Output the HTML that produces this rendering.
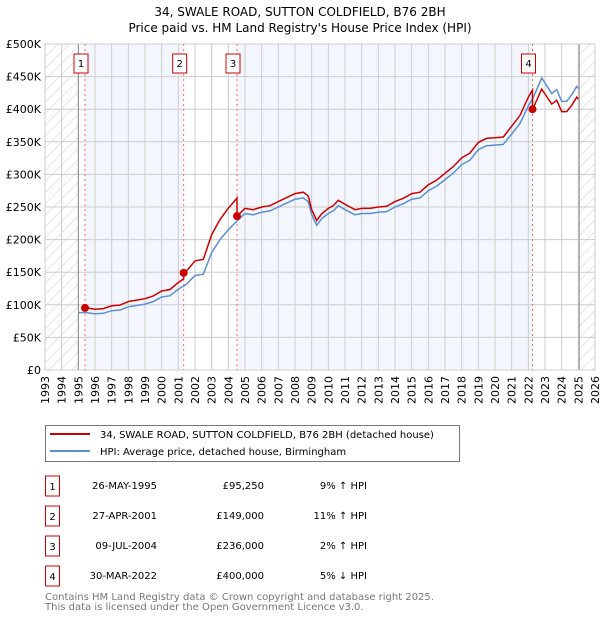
<!DOCTYPE html>
<html><head><meta charset="utf-8">
<style>
body{margin:0;background:#fff;font-family:"DejaVu Sans","Liberation Sans",sans-serif;}
svg text{font-family:"DejaVu Sans","Liberation Sans",sans-serif;}
</style></head>
<body>
<svg id="chart" width="600" height="620" xmlns="http://www.w3.org/2000/svg">
<defs>
<pattern id="hatch" patternUnits="userSpaceOnUse" width="8" height="8" patternTransform="rotate(45)">
<line x1="0" y1="0" x2="0" y2="8" stroke="#ccc" stroke-width="1"/>
</pattern>
</defs>
<text x="300" y="16" text-anchor="middle" font-size="12">34, SWALE ROAD, SUTTON COLDFIELD, B76 2BH</text>
<text x="300" y="32" text-anchor="middle" font-size="12">Price paid vs. HM Land Registry's House Price Index (HPI)</text>
<g id="plot"></g>
<g>
<rect x="45.5" y="425.5" width="414" height="36" fill="#fff" stroke="#777"/>
<line x1="50" y1="434" x2="90" y2="434" stroke="#cc0000" stroke-width="2"/>
<text x="100" y="438" font-size="10">34, SWALE ROAD, SUTTON COLDFIELD, B76 2BH (detached house)</text>
<line x1="50" y1="451" x2="90" y2="451" stroke="#5b8fd4" stroke-width="2"/>
<text x="100" y="455" font-size="10">HPI: Average price, detached house, Birmingham</text>
</g>
<g id="table"></g>
<text x="45" y="600" font-size="10" fill="#777">Contains HM Land Registry data © Crown copyright and database right 2025.</text>
<text x="45" y="610" font-size="10" fill="#777">This data is licensed under the Open Government Licence v3.0.</text>
</svg>
<script>
const hpiYears=[1995.0,1995.5,1996.0,1996.5,1997.0,1997.5,1998.0,1998.5,1999.0,1999.5,2000.0,2000.5,2001.0,2001.5,2002.0,2002.5,2003.0,2003.5,2004.0,2004.5,2005.0,2005.5,2006.0,2006.5,2007.0,2007.5,2008.0,2008.5,2008.8,2009.0,2009.3,2009.6,2010.0,2010.3,2010.6,2011.0,2011.3,2011.6,2012.0,2012.5,2013.0,2013.5,2014.0,2014.5,2015.0,2015.5,2016.0,2016.5,2017.0,2017.5,2018.0,2018.5,2019.0,2019.5,2020.0,2020.5,2021.0,2021.5,2022.0,2022.3,2022.8,2023.1,2023.4,2023.7,2024.0,2024.3,2024.6,2024.9,2025.0];
const hpiValues=[88,88,86,87,91,92,97,99,101,105,112,114,124,132,145,147,180,200,215,228,240,238,242,244,250,256,262,264,258,238,222,232,240,244,252,246,242,238,240,240,242,243,250,255,262,264,275,282,292,302,315,322,338,344,345,346,362,378,405,418,448,436,424,430,412,412,422,435,432];
const saleYears=[1995.40,2001.32,2004.52,2022.25];
const salePrices=[95250,149000,236000,400000];
const saleLabels=["1","2","3","4"];
const saleDates=["26-MAY-1995","27-APR-2001","09-JUL-2004","30-MAR-2022"];
const salePriceText=["£95,250","£149,000","£236,000","£400,000"];
const saleHpiText=["9% ↑ HPI","11% ↑ HPI","2% ↑ HPI","5% ↓ HPI"];
const yTicks=[0,50,100,150,200,250,300,350,400,450,500];
const yTickLabels=["£0","£50K","£100K","£150K","£200K","£250K","£300K","£350K","£400K","£450K","£500K"];
const xTicks=[1993,1994,1995,1996,1997,1998,1999,2000,2001,2002,2003,2004,2005,2006,2007,2008,2009,2010,2011,2012,2013,2014,2015,2016,2017,2018,2019,2020,2021,2022,2023,2024,2025,2026];

const NS="http://www.w3.org/2000/svg";
const X0=45,X1=595,Y0=370,Y1=44;
const x=v=>X0+(v-1993)/(2026-1993)*(X1-X0);
const y=v=>Y0-v/500*(Y0-Y1);
const plot=document.getElementById('plot');
function mk(tag,attrs,parent){const e=document.createElementNS(NS,tag);for(const k in attrs)e.setAttribute(k,attrs[k]);(parent||plot).appendChild(e);return e;}
function hpiAt(t){for(let i=0;i<hpiYears.length-1;i++){if(t>=hpiYears[i]&&t<=hpiYears[i+1]){const f=(t-hpiYears[i])/(hpiYears[i+1]-hpiYears[i]);return hpiValues[i]+f*(hpiValues[i+1]-hpiValues[i]);}}return hpiValues[hpiValues.length-1];}

for(let i=0;i<saleYears.length;i+=2){
 const end=i+1<saleYears.length?saleYears[i+1]:2025;
 const b=mk('rect',{x:x(saleYears[i]),y:Y1,width:x(end)-x(saleYears[i]),height:Y0-Y1,fill:'#eef3fc',opacity:0.7});
 
 
}
let h1=mk('rect',{x:X0,y:Y1,width:x(1995)-X0,height:Y0-Y1,fill:'url(#hatch)'});


let h2=mk('rect',{x:x(2025.05),y:Y1,width:X1-x(2025.05),height:Y0-Y1,fill:'url(#hatch)'});



yTicks.forEach((t,i)=>{
 const l=mk('line',{x1:X0,x2:X1,y1:y(t),y2:y(t),stroke:'#ccc','stroke-width':1});
 
 
 const tx=mk('text',{x:X0-4,y:y(t)+4,'text-anchor':'end','font-size':11});
 tx.textContent=yTickLabels[i];
 
 
});
xTicks.forEach(t=>{
 const l=mk('line',{x1:x(t),x2:x(t),y1:Y1,y2:Y0,stroke:'#ccc','stroke-width':1});
 
 
 const tx=mk('text',{x:0,y:0,'text-anchor':'end','font-size':11,transform:`translate(${x(t)+4},${Y0+6}) rotate(-90)`});
 tx.textContent=t;
 
 
});
let v1=mk('line',{x1:x(1995),x2:x(1995),y1:Y1,y2:Y0,stroke:'#888','stroke-width':1});


let v2=mk('line',{x1:x(2025.05),x2:x(2025.05),y1:Y1,y2:Y0,stroke:'#888','stroke-width':1});


let fr=mk('rect',{x:X0,y:Y1,width:X1-X0,height:Y0-Y1,fill:'none',stroke:'#ccc'});



saleYears.forEach((s,i)=>{
 const l=mk('line',{x1:x(s),x2:x(s),y1:Y1,y2:Y0,stroke:'#ff6666','stroke-width':1,'stroke-dasharray':'2,3'});
 
 
});

let d='';hpiYears.forEach((t,i)=>{d+=(i?'L':'M')+x(t).toFixed(1)+','+y(hpiValues[i]).toFixed(1);});
let hp=mk('path',{d:d,fill:'none',stroke:'#5b8fd4','stroke-width':1.5});



const ratios=saleYears.map((s,i)=>salePrices[i]/1000/hpiAt(s));
let pd='',first=true;
const pts=[];
hpiYears.forEach((t,i)=>{if(t<saleYears[0])return;pts.push(t);});
pts.unshift(saleYears[0]);
const all=[...new Set(pts.concat(saleYears))].sort((a,b)=>a-b);
all.forEach(t=>{
 let k=0;for(let j=0;j<saleYears.length;j++)if(t>=saleYears[j])k=j;
 if(t>2025)return;
 if(saleYears.includes(t)&&k>0){const pv=hpiAt(t)*ratios[k-1];pd+='L'+x(t).toFixed(1)+','+y(pv).toFixed(1);}
 const v=hpiAt(t)*ratios[k];
 pd+=(first?'M':'L')+x(t).toFixed(1)+','+y(v).toFixed(1);first=false;
});
let pp=mk('path',{d:pd,fill:'none',stroke:'#cc0000','stroke-width':1.5});



saleYears.forEach((s,i)=>{
 const c=mk('circle',{cx:x(s),cy:y(salePrices[i]/1000),r:4,fill:'#cc0000'});
 
 
 const g=mk('g',{});
 
 
 mk('rect',{x:x(s)-11,y:54,width:14,height:19,fill:'#fff',stroke:'#cc0000'},g);
 const t=mk('text',{x:x(s)-4,y:67,'text-anchor':'middle','font-size':10},g);
 t.textContent=saleLabels[i];
});

const tb=document.getElementById('table');
saleYears.forEach((s,i)=>{
 const yy=482+i*30;
 const g=mk('g',{},tb);
 
 
 mk('rect',{x:45.5,y:yy-6,width:14,height:20,fill:'#fff',stroke:'#cc0000'},g);
 let t=mk('text',{x:52.5,y:yy+8,'text-anchor':'middle','font-size':10},g);t.textContent=saleLabels[i];
 t=mk('text',{x:157,y:yy+7,'text-anchor':'end','font-size':10},g);t.textContent=saleDates[i];
 t=mk('text',{x:264,y:yy+7,'text-anchor':'end','font-size':10},g);t.textContent=salePriceText[i];
 t=mk('text',{x:367,y:yy+7,'text-anchor':'end','font-size':10},g);t.textContent=saleHpiText[i];
});
</script>
</body></html>
